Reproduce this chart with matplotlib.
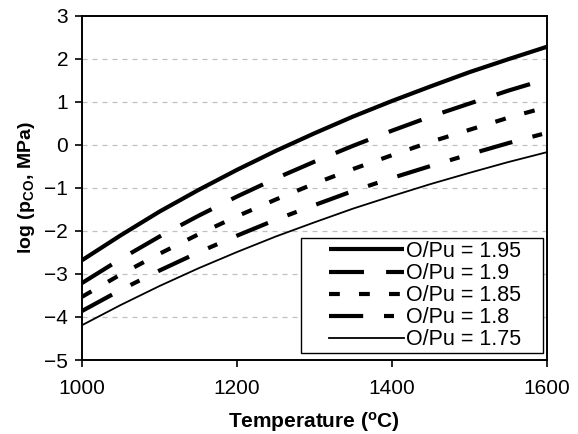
import matplotlib.pyplot as plt
import matplotlib.patches as mpatches
import numpy as np

plt.rcParams['font.family'] = ['Liberation Sans', 'DejaVu Sans']
plt.rcParams['mathtext.fontset'] = 'custom'
plt.rcParams['mathtext.rm'] = 'Liberation Sans'
plt.rcParams['mathtext.bf'] = 'Liberation Sans:bold'

# temperature (°C)
temp = [1000, 1050, 1100, 1150, 1200, 1250, 1300, 1350, 1400, 1450, 1500, 1550, 1600]

# log(pCO, MPa) for each O/Pu ratio
p_195 = [-2.68, -2.10, -1.55, -1.05, -0.58, -0.14, 0.27, 0.66, 1.02, 1.36, 1.69, 1.99, 2.28]
p_190 = [-3.21, -2.65, -2.13, -1.65, -1.20, -0.78, -0.39, -0.02, 0.33, 0.66, 0.96, 1.26, 1.53]
p_185 = [-3.53, -3.01, -2.53, -2.08, -1.66, -1.27, -0.90, -0.56, -0.24, 0.07, 0.35, 0.63, 0.88]
p_180 = [-3.86, -3.37, -2.92, -2.50, -2.11, -1.74, -1.40, -1.07, -0.77, -0.49, -0.22, 0.04, 0.28]
p_175 = [-4.19, -3.72, -3.28, -2.87, -2.49, -2.13, -1.80, -1.48, -1.19, -0.91, -0.65, -0.40, -0.17]

labels = ['O/Pu = 1.95', 'O/Pu = 1.9', 'O/Pu = 1.85', 'O/Pu = 1.8', 'O/Pu = 1.75']

fig = plt.figure(figsize=(5.78, 4.34), dpi=100)
ax = fig.add_axes([0.142, 0.1705, 0.804, 0.793])

# dashed grey grid lines
for yv in [-4, -3, -2, -1, 0, 1, 2]:
    ax.axhline(yv, color='#c0c0c0', linestyle=(0, (4, 4)), linewidth=0.9, zorder=0)

ax.plot(temp, p_195, color='black', linewidth=3.0, solid_capstyle='butt', label=labels[0])
ax.plot(temp, p_190, color='black', linewidth=3.0, dashes=(8.4, 5.3), dash_capstyle='butt', label=labels[1])
ax.plot(temp, p_185, color='black', linewidth=3.0, dashes=(2.6, 4.6), dash_capstyle='butt', label=labels[2])
ax.plot(temp, p_180, color='black', linewidth=3.0, dashes=(8.2, 5.0, 2.4, 5.0), dash_capstyle='butt', label=labels[3])
ax.plot(temp, p_175, color='black', linewidth=1.3, label=labels[4])

ax.set_xlim(1000, 1600)
ax.set_ylim(-5, 3)
ax.set_xticks([1000, 1200, 1400, 1600])
ax.set_yticks([-5, -4, -3, -2, -1, 0, 1, 2, 3])

for s in ax.spines.values():
    s.set_linewidth(1.4)
ax.tick_params(axis='both', direction='out', length=5, width=1.2, labelsize=15)
ax.tick_params(axis='x', pad=9)
ax.tick_params(axis='y', pad=5)

ax.set_xlabel(r'Temperature ($\mathbf{^o}$C)', fontsize=15, fontweight='bold', labelpad=8)
ax.set_ylabel(r'log (p$\mathbf{_{CO}}$, MPa)', fontsize=14, fontweight='bold', labelpad=5)

# legend box (wider than its contents, as in the original)
box = mpatches.Rectangle((0.471, 0.020), 0.520, 0.334, transform=ax.transAxes,
                         facecolor='white', edgecolor='black', linewidth=1.0, zorder=4)
ax.add_patch(box)
leg = ax.legend(loc='center', bbox_to_anchor=(0.738, 0.187), fontsize=15.5,
                handlelength=3.5, handletextpad=0.1, labelspacing=0.05,
                borderpad=0.0, frameon=False, borderaxespad=0)
leg.set_zorder(5)

fig.savefig('out.png', dpi=100)
